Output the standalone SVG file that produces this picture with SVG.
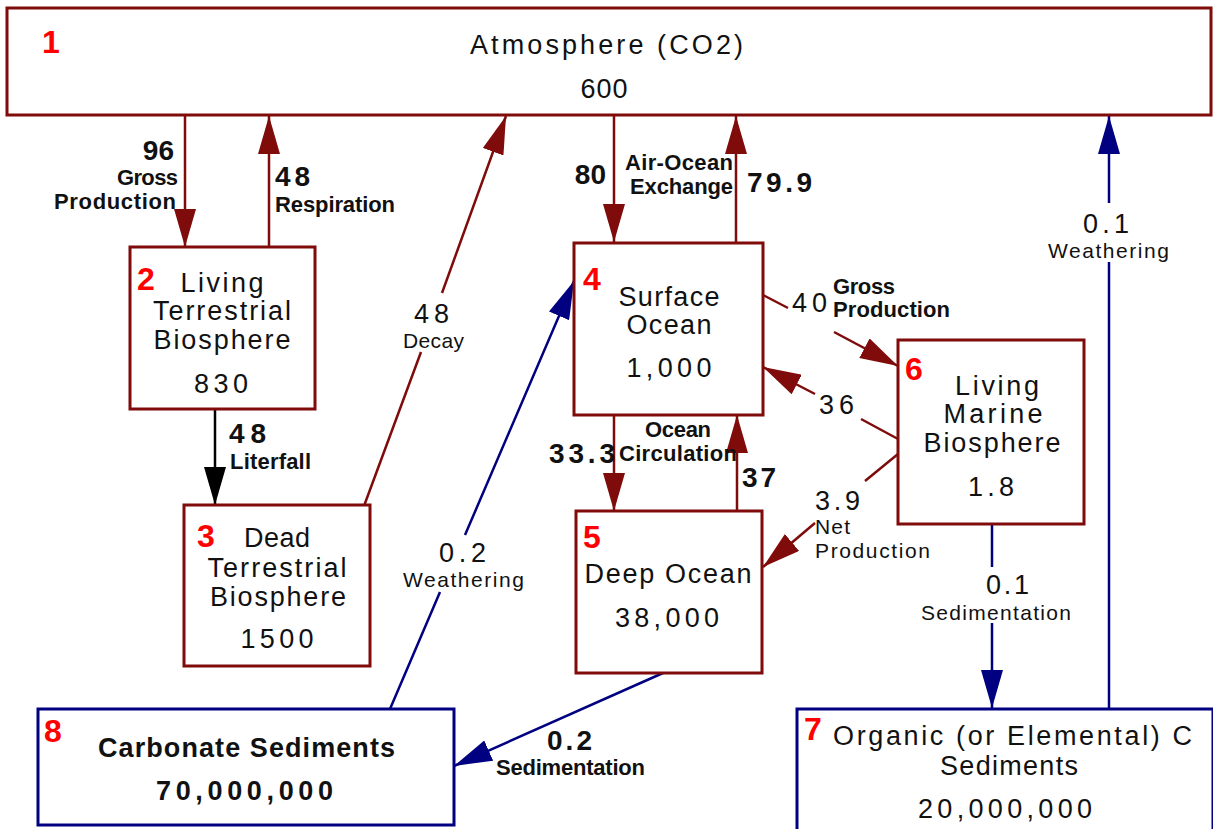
<svg xmlns="http://www.w3.org/2000/svg" width="1213" height="829" viewBox="0 0 1213 829">
<style>
text{font-family:"Liberation Sans",Arial,sans-serif;fill:#111}
.bx{fill:#fff;stroke-width:3}
.r{stroke:#7f0b0b}
.b{stroke:#000080}
.t{font-size:27px;text-anchor:middle}
.num{font-size:32px;font-weight:bold;fill:#f00}
.fv{font-size:28px;font-weight:bold}
.fb{font-size:22px;font-weight:bold}
.fr{font-size:27px}
.fs{font-size:21px}
.m{text-anchor:middle}
.e{text-anchor:end}
.ln{fill:none;stroke-width:2.5}
</style>
<defs>
<marker id="ar" markerUnits="userSpaceOnUse" markerWidth="38" markerHeight="22" refX="38" refY="11" orient="auto"><path d="M0,0 L38,11 L0,22 z" fill="#7f0b0b"/></marker>
<marker id="ab" markerUnits="userSpaceOnUse" markerWidth="38" markerHeight="22" refX="38" refY="11" orient="auto"><path d="M0,0 L38,11 L0,22 z" fill="#000080"/></marker>
<marker id="ak" markerUnits="userSpaceOnUse" markerWidth="38" markerHeight="22" refX="38" refY="11" orient="auto"><path d="M0,0 L38,11 L0,22 z" fill="#000"/></marker>
</defs>
<rect width="1213" height="829" fill="#fff"/>

<g id="connectors">
<path class="ln" stroke="#7f0b0b" d="M185,116 L185,247" marker-end="url(#ar)"/>
<path class="ln" stroke="#7f0b0b" d="M269,247 L269,116" marker-end="url(#ar)"/>
<path class="ln" stroke="#000" d="M215,409 L215,505" marker-end="url(#ak)"/>
<path class="ln" stroke="#7f0b0b" stroke-width="2" d="M364,506 L421,352 M442,293 L506,116" marker-end="url(#ar)"/>
<path class="ln" stroke="#7f0b0b" d="M614,116 L614,242" marker-end="url(#ar)"/>
<path class="ln" stroke="#7f0b0b" d="M736,242 L736,116" marker-end="url(#ar)"/>
<path class="ln" stroke="#7f0b0b" d="M614,415 L614,511" marker-end="url(#ar)"/>
<path class="ln" stroke="#7f0b0b" d="M737,511 L737,415" marker-end="url(#ar)"/>
<path class="ln" stroke="#7f0b0b" d="M763,295 L788,308 M834,332 L898,366" marker-end="url(#ar)"/>
<path class="ln" stroke="#7f0b0b" d="M898,439 L861,419 M815,394 L763,367" marker-end="url(#ar)"/>
<path class="ln" stroke="#7f0b0b" d="M898,454 L865,481 M815,523 L763,567" marker-end="url(#ar)"/>
<path class="ln" stroke="#000080" d="M992,524 L992,567 M992,623 L992,708" marker-end="url(#ab)"/>
<path class="ln" stroke="#000080" d="M1109,709 L1109,262 M1109,203 L1109,116" marker-end="url(#ab)"/>
<path class="ln" stroke="#000080" d="M390,709 L440,592 M465,535 L574,281" marker-end="url(#ab)"/>
<path class="ln" stroke="#000080" d="M663,673 L454,766" marker-end="url(#ab)"/>
</g>

<g id="labels">
<text class="fv e" x="174" y="160">96</text>
<text class="fb e" x="178" y="185" textLength="61">Gross</text>
<text class="fb e" x="176" y="209" textLength="122">Production</text>
<text class="fv" x="275" y="186" textLength="35">48</text>
<text class="fb" x="275" y="212" textLength="120">Respiration</text>
<text class="fv" x="229" y="443" textLength="37">48</text>
<text class="fb" x="230" y="469" textLength="81">Literfall</text>
<text class="fr m" x="431.5" y="323" textLength="35">48</text>
<text class="fs m" x="433.5" y="348" textLength="61">Decay</text>
<text class="fv e" x="606" y="184">80</text>
<text class="fb e" x="733" y="170" font-size="20" textLength="108">Air-Ocean</text>
<text class="fb e" x="733" y="194" font-size="20" textLength="103">Exchange</text>
<text class="fv" x="747" y="192" textLength="65">79.9</text>
<text class="fv" x="549" y="463" textLength="66">33.3</text>
<text class="fb" x="645" y="437" font-size="21" textLength="66">Ocean</text>
<text class="fb" x="619" y="461" font-size="21" textLength="118">Circulation</text>
<text class="fv" x="742" y="487" textLength="34">37</text>
<text class="fr" x="792" y="312" textLength="35">40</text>
<text class="fb" x="833" y="294" textLength="62">Gross</text>
<text class="fb" x="833" y="317" textLength="117">Production</text>
<text class="fr" x="819" y="414" textLength="35">36</text>
<text class="fr" x="815" y="510" textLength="45">3.9</text>
<text class="fs" x="815" y="534" textLength="35">Net</text>
<text class="fs" x="815" y="558" textLength="115">Production</text>
<text class="fr" x="986" y="594" textLength="43">0.1</text>
<text class="fs m" x="996" y="620" textLength="150">Sedimentation</text>
<text class="fr m" x="1106" y="233" textLength="46">0.1</text>
<text class="fs m" x="1108.5" y="258" textLength="121">Weathering</text>
<text class="fr m" x="462.5" y="562" textLength="47">0.2</text>
<text class="fs m" x="463.5" y="587" textLength="121">Weathering</text>
<text class="fv m" x="569.5" y="750" textLength="45">0.2</text>
<text class="fb m" x="570.5" y="775" textLength="149">Sedimentation</text>
</g>

<g id="n1">
<rect class="bx r" x="7" y="8" width="1204" height="107"/>
<text class="num" x="42" y="53">1</text>
<text class="t" x="606.5" y="54" font-size="26" textLength="273">Atmosphere (CO2)</text>
<text class="t" x="604" y="98" font-size="22" textLength="47">600</text>
</g>

<g id="n2">
<rect class="bx r" x="130" y="247" width="185" height="162"/>
<text class="num" x="137" y="290">2</text>
<text class="t" x="222" y="292" textLength="83">Living</text>
<text class="t" x="222" y="320" textLength="138">Terrestrial</text>
<text class="t" x="222" y="349" textLength="137">Biosphere</text>
<text class="t" x="221" y="393" font-size="28" textLength="54">830</text>
</g>

<g id="n3">
<rect class="bx r" x="184" y="505" width="186" height="161"/>
<text class="num" x="197" y="547">3</text>
<text class="t" x="277" y="547" textLength="66">Dead</text>
<text class="t" x="277" y="577" textLength="139">Terrestrial</text>
<text class="t" x="278" y="606" textLength="136">Biosphere</text>
<text class="t" x="277" y="648" font-size="28" textLength="73">1500</text>
</g>

<g id="n4">
<rect class="bx r" x="574" y="243" width="189" height="172"/>
<text class="num" x="583" y="290">4</text>
<text class="t" x="669" y="306" textLength="101">Surface</text>
<text class="t" x="669" y="334" textLength="85">Ocean</text>
<text class="t" x="669" y="377" font-size="28" textLength="85">1,000</text>
</g>

<g id="n5">
<rect class="bx r" x="576" y="511" width="186" height="162"/>
<text class="num" x="583" y="548">5</text>
<text class="t" x="668" y="583" textLength="167">Deep Ocean</text>
<text class="t" x="667" y="627" font-size="28" textLength="104">38,000</text>
</g>

<g id="n6">
<rect class="bx r" x="898" y="340" width="186" height="184"/>
<text class="num" x="905" y="380">6</text>
<text class="t" x="997" y="395" textLength="84">Living</text>
<text class="t" x="993" y="423" textLength="99">Marine</text>
<text class="t" x="992" y="452" textLength="137">Biosphere</text>
<text class="t" x="991" y="496" font-size="28" textLength="46">1.8</text>
</g>

<g id="n7">
<rect class="bx b" x="797" y="709" width="416" height="130"/>
<text class="num" x="804" y="740">7</text>
<text class="t" x="1012.5" y="745" textLength="359">Organic (or Elemental) C</text>
<text class="t" x="1009" y="775" textLength="138">Sediments</text>
<text class="t" x="1005" y="818" font-size="28" textLength="174">20,000,000</text>
</g>

<g id="n8">
<rect class="bx b" x="38" y="709" width="416" height="116"/>
<text class="num" x="44" y="742">8</text>
<text class="t" x="246.5" y="757" font-weight="bold" textLength="297">Carbonate Sediments</text>
<text class="t" x="244.5" y="800" font-size="28" font-weight="bold" textLength="177">70,000,000</text>
</g>
</svg>
